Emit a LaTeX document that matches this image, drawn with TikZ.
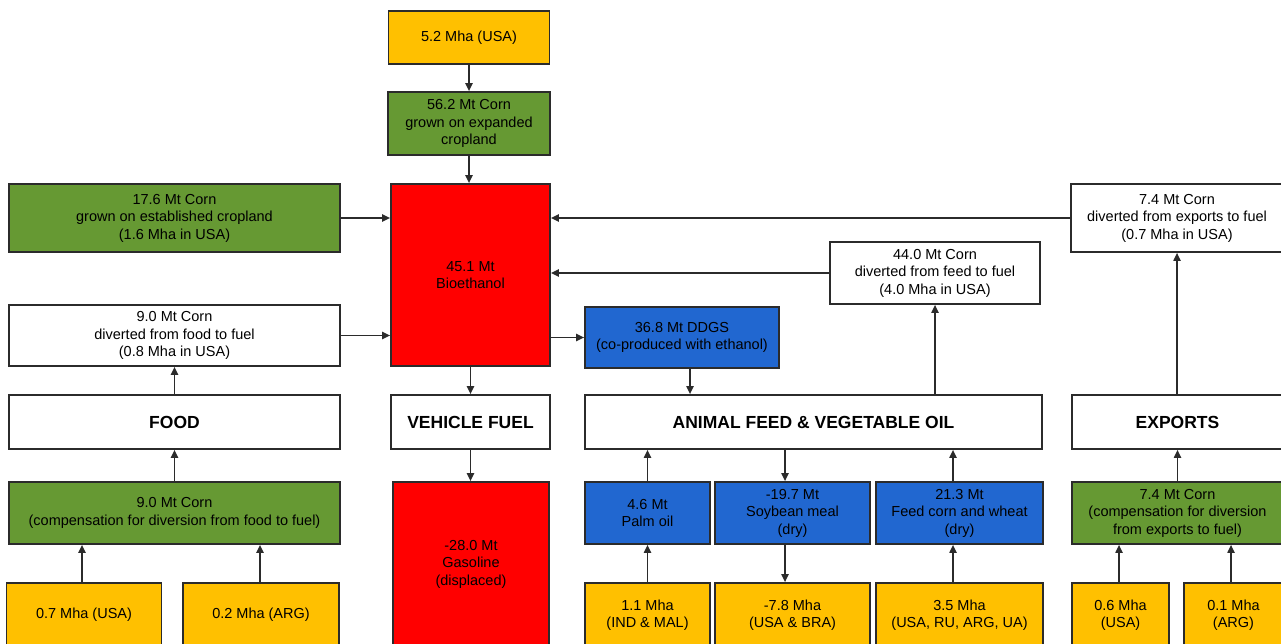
\documentclass[tikz,border=0pt]{standalone}
\usepackage{fontspec}
\setmainfont{Liberation Sans}
\usetikzlibrary{arrows.meta,calc}
\definecolor{cyellow}{HTML}{FFC000}
\definecolor{cgreen}{HTML}{669933}
\definecolor{cred}{HTML}{FF0000}
\definecolor{cblue}{HTML}{2167D0}
\definecolor{edge}{HTML}{2B2B2B}
\begin{document}
\begin{tikzpicture}[x=1pt,y=-1pt,
  box/.style={draw=edge, line width=1.6pt, inner sep=0pt, align=center,
    font=\fontsize{14.5}{17.5}\selectfont, text=black},
  ybox/.style={box, fill=cyellow},
  gbox/.style={box, fill=cgreen},
  rbox/.style={box, fill=cred},
  bbox/.style={box, fill=cblue},
  wbox/.style={box, fill=white},
  head/.style={box, fill=white, font=\fontsize{17.5}{20}\selectfont\bfseries},
  arr/.style={draw=edge, line width=1.8pt, -{Triangle[length=8pt,width=7pt]}},
]
\useasboundingbox (0,0) rectangle (1281,644);
\clip (0,0) rectangle (1281,644);

% ---- bioethanol column ----
\node[ybox, minimum width=161pt, minimum height=53pt] (usa) at (469,37.5) {5.2 Mha (USA)};
\node[gbox, minimum width=162pt, minimum height=63pt] (c562) at (469,123.5) {56.2 Mt Corn\\grown on expanded\\cropland};
\node[rbox, minimum width=159pt, minimum height=182pt] (bio) at (470.5,275) {45.1 Mt\\Bioethanol};
\node[head, minimum width=159pt, minimum height=54pt] (vfuel) at (470.5,422) {VEHICLE FUEL};
\node[rbox, minimum width=156pt, minimum height=164pt] (gas) at (471,564) {-28.0 Mt\\Gasoline\\(displaced)};

% ---- food column ----
\node[gbox, minimum width=331pt, minimum height=68pt] (c176) at (174.5,218) {17.6 Mt Corn\\grown on established cropland\\(1.6 Mha in USA)};
\node[wbox, minimum width=331pt, minimum height=61pt] (c90) at (174.5,335.5) {9.0 Mt Corn\\diverted from food to fuel\\(0.8 Mha in USA)};
\node[head, minimum width=331pt, minimum height=54pt] (food) at (174.5,422) {FOOD};
\node[gbox, minimum width=331pt, minimum height=62pt] (g90) at (174.5,513) {9.0 Mt Corn\\(compensation for diversion from food to fuel)};
\node[ybox, minimum width=155pt, minimum height=64pt] (y07) at (84,615) {0.7 Mha (USA)};
\node[ybox, minimum width=156pt, minimum height=64pt] (y02) at (261,615) {0.2 Mha (ARG)};

% ---- feed column ----
\node[bbox, minimum width=194pt, minimum height=61pt] (ddgs) at (682,337.5) {36.8 Mt DDGS\\(co-produced with ethanol)};
\node[wbox, minimum width=210pt, minimum height=62pt] (c440) at (935,273) {44.0 Mt Corn\\diverted from feed to fuel\\(4.0 Mha in USA)};
\node[head, minimum width=457pt, minimum height=54pt] (animal) at (813.5,422) {ANIMAL FEED \& VEGETABLE OIL};
\node[bbox, minimum width=125pt, minimum height=62pt] (palm) at (647.5,513) {4.6 Mt\\Palm oil};
\node[bbox, minimum width=155pt, minimum height=62pt] (soy) at (792.5,513) {-19.7 Mt\\Soybean meal\\(dry)};
\node[bbox, minimum width=167pt, minimum height=62pt] (feed) at (959.5,513) {21.3 Mt\\Feed corn and wheat\\(dry)};
\node[ybox, minimum width=125pt, minimum height=64pt] (y11) at (647.5,615) {1.1 Mha\\(IND \& MAL)};
\node[ybox, minimum width=155pt, minimum height=64pt] (y78) at (792.5,615) {-7.8 Mha\\(USA \& BRA)};
\node[ybox, minimum width=167pt, minimum height=64pt] (y35) at (959.5,615) {3.5 Mha\\(USA, RU, ARG, UA)};

% ---- exports column ----
\node[wbox, minimum width=212pt, minimum height=68pt] (c74) at (1177,218) {7.4 Mt Corn\\diverted from exports to fuel\\(0.7 Mha in USA)};
\node[head, minimum width=211pt, minimum height=54pt] (exports) at (1177.5,422) {EXPORTS};
\node[gbox, minimum width=211pt, minimum height=62pt] (g74) at (1177.5,513) {7.4 Mt Corn\\(compensation for diversion\\from exports to fuel)};
\node[ybox, minimum width=97pt, minimum height=64pt] (y06) at (1120.5,615) {0.6 Mha\\(USA)};
\node[ybox, minimum width=99pt, minimum height=64pt] (y01) at (1233.5,615) {0.1 Mha\\(ARG)};

% ---- connectors ----
\draw[arr] (usa.south) -- (c562.north);
\draw[arr] (c562.south) -- (c562.south |- bio.north);
\draw[arr] (c176.east) -- (bio.west |- c176.east);
\draw[arr] (c90.east) -- (bio.west |- c90.east);
\draw[arr] (c74.west) -- (bio.east |- c74.west);
\draw[arr] (c440.west) -- (bio.east |- c440.west);
\draw[arr] (bio.east |- ddgs.west) -- (ddgs.west);
\draw[arr] (bio.south) -- (vfuel.north);
\draw[arr] (vfuel.south) -- (vfuel.south |- gas.north);

\draw[arr] (food.north) -- (c90.south);
\draw[arr] (g90.north) -- (food.south);
\draw[arr] ([xshift=-2pt]y07.north) -- ([xshift=-2pt]y07.north |- g90.south);
\draw[arr] ([xshift=-1pt]y02.north) -- ([xshift=-1pt]y02.north |- g90.south);

\draw[arr] ([xshift=8pt]ddgs.south) -- ([xshift=8pt]ddgs.south |- animal.north);
\draw[arr] (animal.north -| c440.south) -- (c440.south);
\draw[arr] (palm.north) -- (palm.north |- animal.south);
\draw[arr] ([xshift=-7.5pt]soy.north |- animal.south) -- ([xshift=-7.5pt]soy.north);
\draw[arr] ([xshift=-6.5pt]feed.north) -- ([xshift=-6.5pt]feed.north |- animal.south);
\draw[arr] (y11.north) -- (palm.south);
\draw[arr] ([xshift=-7.5pt]soy.south) -- ([xshift=-7.5pt]soy.south |- y78.north);
\draw[arr] ([xshift=-6.5pt]y35.north) -- ([xshift=-6.5pt]y35.north |- feed.south);

\draw[arr] (exports.north -| c74.south) -- (c74.south);
\draw[arr] (g74.north) -- (exports.south);
\draw[arr] ([xshift=-1.5pt]y06.north) -- ([xshift=-1.5pt]y06.north |- g74.south);
\draw[arr] ([xshift=-2.5pt]y01.north) -- ([xshift=-2.5pt]y01.north |- g74.south);
\end{tikzpicture}
\end{document}
